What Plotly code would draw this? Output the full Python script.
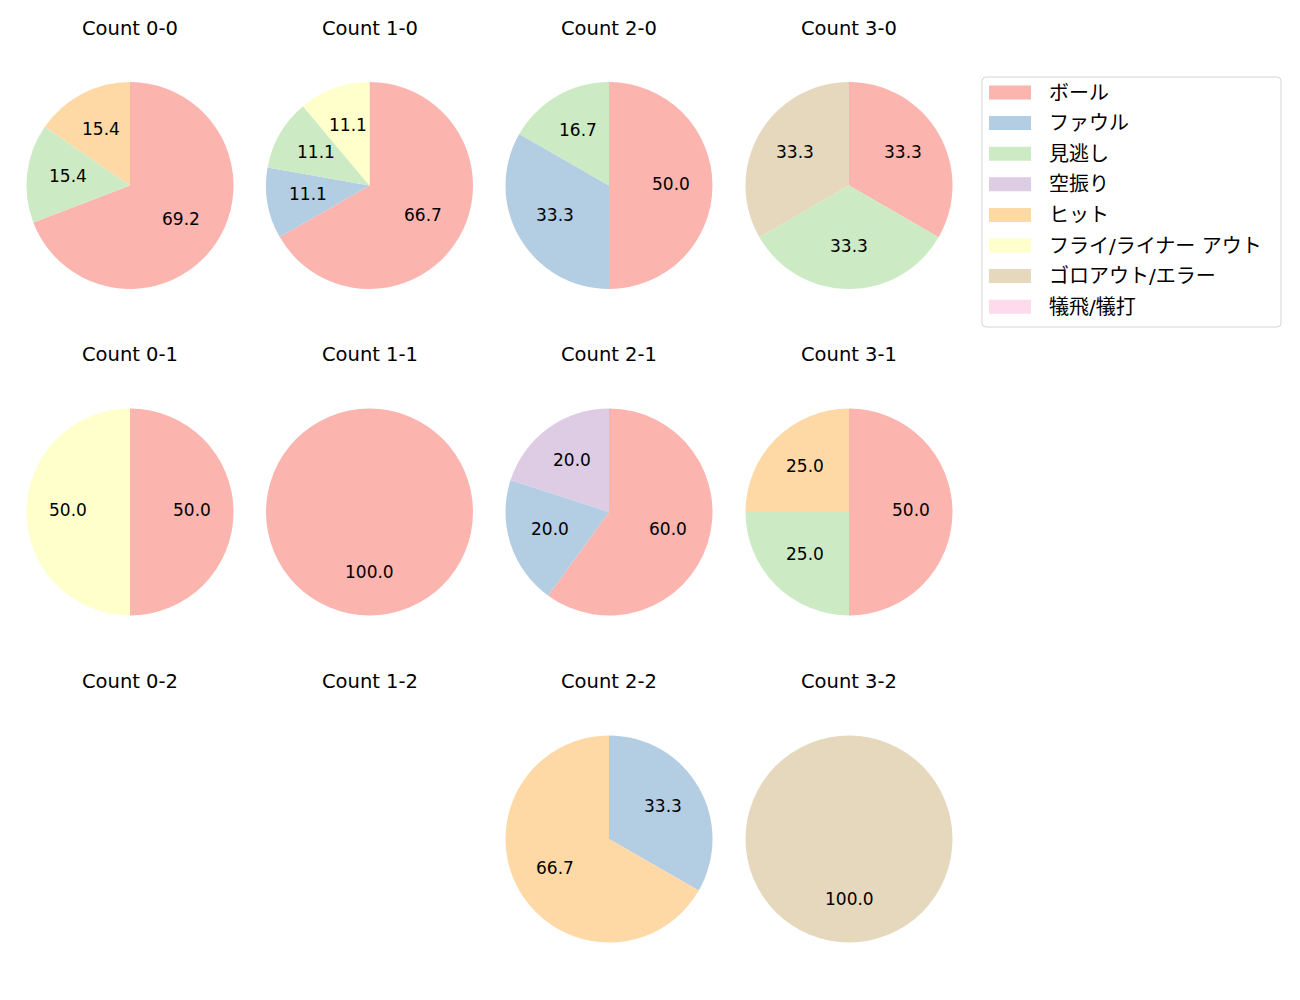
import math
import plotly.graph_objects as go

labels = ["ボール", "ファウル", "見逃し", "空振り", "ヒット",
          "フライ/ライナー アウト", "ゴロアウト/エラー", "犠飛/犠打"]
colors = ["#fbb4ae", "#b3cde3", "#ccebc5", "#decbe4", "#fed9a6",
          "#ffffcc", "#e5d8bd", "#fddaec"]

counts = ["0-0", "1-0", "2-0", "3-0",
          "0-1", "1-1", "2-1", "3-1",
          "0-2", "1-2", "2-2", "3-2"]

# percentages per count, in label order
values = {
    "0-0": [69.2, 0, 15.4, 0, 15.4, 0, 0, 0],
    "1-0": [66.7, 11.1, 11.1, 0, 0, 11.1, 0, 0],
    "2-0": [50.0, 33.3, 16.7, 0, 0, 0, 0, 0],
    "3-0": [33.3, 0, 33.3, 0, 0, 0, 33.3, 0],
    "0-1": [50.0, 0, 0, 0, 0, 50.0, 0, 0],
    "1-1": [100.0, 0, 0, 0, 0, 0, 0, 0],
    "2-1": [60.0, 20.0, 0, 20.0, 0, 0, 0, 0],
    "3-1": [50.0, 0, 25.0, 0, 25.0, 0, 0, 0],
    "0-2": [0, 0, 0, 0, 0, 0, 0, 0],
    "1-2": [0, 0, 0, 0, 0, 0, 0, 0],
    "2-2": [0, 33.3, 0, 0, 66.7, 0, 0, 0],
    "3-2": [0, 0, 0, 0, 0, 0, 100.0, 0],
}

W, H = 1300, 1000
col_cx = [130, 369.5, 609, 849]
row_cy = [185.5, 512, 839]
R = 103.5
FONT = "DejaVu Sans, Noto Sans CJK JP"

fig = go.Figure()
annotations = []
shapes = []
for i, c in enumerate(counts):
    r, k = divmod(i, 4)
    cx, cy = col_cx[k], row_cy[r]
    vals = values[c]
    annotations.append(dict(
        text=f"Count {c}", x=cx / W, y=1 - (cy - 157.5) / H,
        xref="paper", yref="paper", showarrow=False,
        font=dict(size=19.5, color="#000000", family=FONT),
        xanchor="center", yanchor="middle"))
    total = sum(vals)
    if total <= 0:
        continue
    fig.add_trace(go.Pie(
        labels=labels, values=vals, sort=False, direction="clockwise",
        rotation=0, textinfo="none", hoverinfo="label+percent",
        marker=dict(colors=colors, line=dict(width=0)),
        domain=dict(x=[(cx - R) / W, (cx + R) / W],
                    y=[1 - (cy + R) / H, 1 - (cy - R) / H]),
        showlegend=False, name=c))
    cum = 0.0
    for v in vals:
        if v <= 0:
            continue
        mid = (cum + v / 2) / total
        cum += v
        th = 2 * math.pi * mid
        px = cx + 0.6 * R * math.sin(th)
        py = cy - 0.6 * R * math.cos(th)
        annotations.append(dict(
            text=f"{v:.1f}", x=px / W, y=1 - (py - 2) / H,
            xref="paper", yref="paper", showarrow=False,
            font=dict(size=17, color="#000000", family=FONT),
            xanchor="center", yanchor="middle"))

# legend (matplotlib-style box with wide colour patches)
lx0, lx1, ly0, ly1 = 982, 1281, 77, 327
rad = 4
shapes.append(dict(
    type="path", xref="paper", yref="paper", layer="above",
    path=(f"M {(lx0 + rad) / W},{1 - ly0 / H} L {(lx1 - rad) / W},{1 - ly0 / H} "
          f"Q {lx1 / W},{1 - ly0 / H} {lx1 / W},{1 - (ly0 + rad) / H} "
          f"L {lx1 / W},{1 - (ly1 - rad) / H} "
          f"Q {lx1 / W},{1 - ly1 / H} {(lx1 - rad) / W},{1 - ly1 / H} "
          f"L {(lx0 + rad) / W},{1 - ly1 / H} "
          f"Q {lx0 / W},{1 - ly1 / H} {lx0 / W},{1 - (ly1 - rad) / H} "
          f"L {lx0 / W},{1 - (ly0 + rad) / H} "
          f"Q {lx0 / W},{1 - ly0 / H} {(lx0 + rad) / W},{1 - ly0 / H} Z"),
    line=dict(color="#d5d5d5", width=1), fillcolor="rgba(255,255,255,0.8)"))
row0, step = 92.5, 30.6
for j, (lab, col) in enumerate(zip(labels, colors)):
    yc = row0 + j * step
    shapes.append(dict(
        type="rect", xref="paper", yref="paper", layer="above",
        x0=989 / W, x1=1031 / W, y0=1 - (yc - 7) / H, y1=1 - (yc + 7) / H,
        fillcolor=col, line=dict(width=0)))
    annotations.append(dict(
        text=lab, x=1047 / W, y=1 - yc / H, xref="paper", yref="paper",
        showarrow=False, xanchor="left", yanchor="middle",
        font=dict(size=20, color="#000000", family=FONT)))

fig.update_layout(
    width=W, height=H, margin=dict(l=0, r=0, t=0, b=0),
    paper_bgcolor="white", plot_bgcolor="white",
    font=dict(family=FONT, size=17, color="#000000"),
    annotations=annotations, shapes=shapes, showlegend=False,
)
fig.write_html("out.html")
